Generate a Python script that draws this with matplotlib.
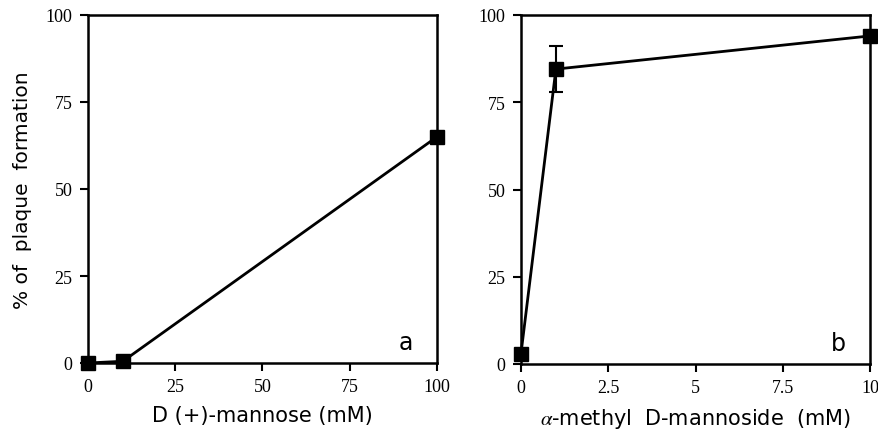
import matplotlib.pyplot as plt

plt.rcParams['mathtext.fontset'] = 'stix'

# panel a: D(+)-mannose
mannose_mM = [0, 10, 100]
mannose_pct = [0, 0.5, 65]

# panel b: alpha-methyl D-mannoside
methyl_mM = [0, 1, 10]
methyl_pct = [3, 84.5, 94]
methyl_err = [0, 6.5, 0]

y_ticks = [0, 25, 50, 75, 100]
a_ticks = [0, 25, 50, 75, 100]
b_ticks = [0, 2.5, 5, 7.5, 10]
b_ticklabels = ['0', '2.5', '5', '7.5', '10']

fig = plt.figure(figsize=(8.79, 4.35), dpi=100)
ax1 = fig.add_axes([88/879, 1 - 364/435, 349/879, 348/435])
ax2 = fig.add_axes([521/879, 1 - 365/435, 349/879, 349/435])

def style(ax, xticks, xlabels, xmax):
    ax.set_xlim(0, xmax)
    ax.set_ylim(0, 100)
    ax.set_xticks(xticks)
    ax.set_xticklabels(xlabels, family='Liberation Serif', fontsize=13)
    ax.set_yticks(y_ticks)
    ax.set_yticklabels([str(t) for t in y_ticks], family='Liberation Serif', fontsize=13)
    ax.tick_params(direction='out', length=6, width=1.5, pad=5)
    for s in ax.spines.values():
        s.set_linewidth(1.8)

ax1.plot(mannose_mM, mannose_pct, color='black', lw=2, marker='s', ms=10, clip_on=False)
style(ax1, a_ticks, [str(t) for t in a_ticks], 100)
ax1.set_xlabel('D (+)-mannose (mM)', fontsize=15, labelpad=7)
ax1.set_ylabel('% of  plaque  formation', fontsize=14.5, labelpad=10)
ax1.text(91, 6, 'a', fontsize=17, ha='center', va='center')

ax2.errorbar(methyl_mM, methyl_pct, yerr=methyl_err, color='black', lw=2, marker='s', ms=10,
             capsize=5, capthick=1.5, elinewidth=1.5, clip_on=False)
style(ax2, b_ticks, b_ticklabels, 10)
ax2.set_xlabel(r'$\alpha$-methyl  D-mannoside  (mM)', fontsize=15, labelpad=7)
ax2.text(9.1, 6, 'b', fontsize=17, ha='center', va='center')

fig.savefig('out.png', dpi=100)
